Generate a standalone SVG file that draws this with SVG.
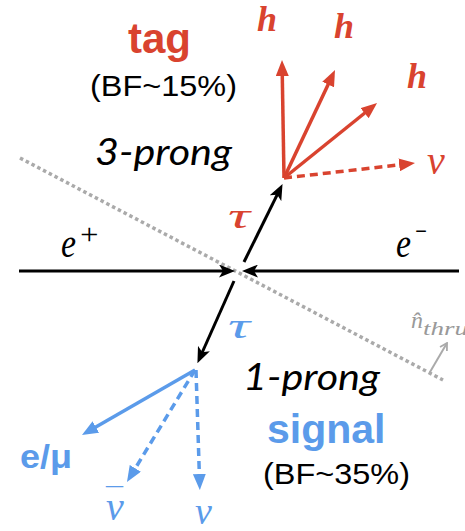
<svg xmlns="http://www.w3.org/2000/svg" width="465" height="531" viewBox="0 0 465 531">
<style>
.red{fill:#d9432f}
.blue{fill:#5b9bea}
.sans{font-family:"Liberation Sans",Arial,sans-serif}
.bold{font-weight:bold}
.it{font-family:"Lato","Open Sans",sans-serif;font-style:italic}
.math{font-family:"Liberation Serif","Times New Roman",serif;font-style:italic}
.lr{stroke:#d9432f;stroke-width:3.5;fill:none}
.lb{stroke:#5b9bea;stroke-width:3.5;fill:none}
.lk{stroke:#000;stroke-width:3;fill:none}
.dash{stroke-dasharray:8 5}
</style>
<defs>
<marker id="hr" viewBox="0 0 16 13" refX="5" refY="6.5" markerWidth="16" markerHeight="13" orient="auto" markerUnits="userSpaceOnUse"><path d="M0,0 L16,6.5 L0,13 z" fill="#d9432f"/></marker>
<marker id="hb" viewBox="0 0 16 13" refX="5" refY="6.5" markerWidth="16" markerHeight="13" orient="auto" markerUnits="userSpaceOnUse"><path d="M0,0 L16,6.5 L0,13 z" fill="#5b9bea"/></marker>
<marker id="hk" viewBox="0 0 16 13" refX="6" refY="6.5" markerWidth="16" markerHeight="13" orient="auto" markerUnits="userSpaceOnUse"><path d="M0,0 L16,6.5 L0,13 L4,6.5 z" fill="#000"/></marker>
<marker id="hg" viewBox="0 0 9 10" refX="8" refY="5" markerWidth="9" markerHeight="10" orient="auto" markerUnits="userSpaceOnUse"><path d="M1,1 L8,5 L1,9" fill="none" stroke="#aaa" stroke-width="1.8"/></marker>
</defs>

<g id="connectors">
<line id="thrust-axis" x1="20" y1="158" x2="443" y2="380" stroke="#aaa" stroke-width="3.5" stroke-dasharray="3.5 3"/>
<line id="thrust-arrow" x1="430" y1="372" x2="447" y2="343" stroke="#aaa" stroke-width="2" marker-end="url(#hg)"/>
<line id="eplus" class="lk" x1="19" y1="271" x2="225" y2="271" marker-end="url(#hk)"/>
<line id="eminus" class="lk" x1="459" y1="271" x2="252" y2="271" marker-end="url(#hk)"/>
<line id="tau-tag" class="lk" x1="244" y1="262" x2="278.1" y2="192.9" marker-end="url(#hk)"/>
<line id="tau-sig" class="lk" x1="234" y1="281" x2="201.5" y2="354" marker-end="url(#hk)"/>
<line id="h1" class="lr" x1="284" y1="178" x2="282.2" y2="71" marker-end="url(#hr)"/>
<line id="h2" class="lr" x1="284" y1="178" x2="330.3" y2="80" marker-end="url(#hr)"/>
<line id="h3" class="lr" x1="284" y1="178" x2="368.5" y2="110" marker-end="url(#hr)"/>
<line id="nu-tag" class="lr dash" x1="284" y1="178" x2="404.1" y2="164.3" marker-end="url(#hr)"/>
<line id="lep" class="lb" x1="195" y1="370" x2="91.5" y2="429.5" marker-end="url(#hb)"/>
<line id="nubar" class="lb dash" x1="195" y1="370" x2="132.7" y2="472.6" marker-end="url(#hb)"/>
<line id="nu-sig" class="lb dash" x1="196" y1="370" x2="199.5" y2="479" marker-end="url(#hb)"/>
</g>

<g id="tag-label">
<text class="sans bold red" x="128" y="53" font-size="42">tag</text>
<text class="sans" x="90" y="96" font-size="30" textLength="147" lengthAdjust="spacingAndGlyphs">(BF~15%)</text>
</g>
<g id="three-prong"><text class="it" x="95" y="165" font-size="36" textLength="137" lengthAdjust="spacingAndGlyphs">3-prong</text></g>
<g id="one-prong"><text class="it" x="243" y="390" font-size="36" textLength="137" lengthAdjust="spacingAndGlyphs">1-prong</text></g>
<g id="signal-label">
<text class="sans bold blue" x="267" y="443" font-size="41">signal</text>
<text class="sans" x="263" y="484" font-size="30" textLength="147" lengthAdjust="spacingAndGlyphs">(BF~35%)</text>
</g>
<g id="eplus-label"><text class="math" x="61" y="257" font-size="40" textLength="15" lengthAdjust="spacingAndGlyphs">e</text><text class="math" x="78" y="244" font-size="30" font-style="normal" textLength="22" lengthAdjust="spacingAndGlyphs">+</text></g>
<g id="eminus-label"><text class="math" x="396" y="257" font-size="40" textLength="15" lengthAdjust="spacingAndGlyphs">e</text><text class="math" x="414" y="241" font-size="30" font-style="normal" textLength="14" lengthAdjust="spacingAndGlyphs">−</text></g>
<g id="tau-tag-label"><text class="math red" x="228" y="228" font-size="36" textLength="22" lengthAdjust="spacingAndGlyphs">τ</text></g>
<g id="tau-sig-label"><text class="math blue" x="228" y="338" font-size="36" textLength="22" lengthAdjust="spacingAndGlyphs">τ</text></g>
<g id="h-labels">
<text class="math bold red" x="257" y="31" font-size="36">h</text>
<text class="math bold red" x="334" y="38" font-size="36">h</text>
<text class="math bold red" x="407" y="88" font-size="36">h</text>
</g>
<g id="nu-tag-label"><text class="math red" x="427" y="174" font-size="40">ν</text></g>
<g id="lep-label"><text class="sans bold blue" x="20" y="468" font-size="34" textLength="52" lengthAdjust="spacingAndGlyphs">e/μ</text></g>
<g id="nubar-label"><text class="math blue" x="106" y="520" font-size="40">ν<tspan class="sans" font-style="normal" x="106" y="508" font-size="30" textLength="17" lengthAdjust="spacingAndGlyphs">¯</tspan></text></g>
<g id="nu-sig-label"><text class="math blue" x="195" y="524" font-size="38">ν</text></g>
<g id="thrust-label"><text class="math" fill="#999" x="411" y="328" font-size="24">n̂<tspan x="423" y="335" font-size="18" textLength="63" lengthAdjust="spacingAndGlyphs">thrust</tspan></text></g>
</svg>
